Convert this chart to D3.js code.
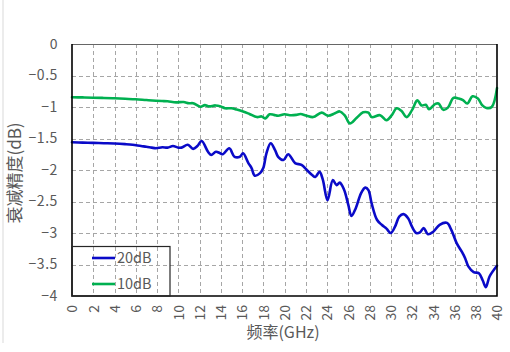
<!DOCTYPE html>
<html>
<head>
<meta charset="utf-8">
<script src="https://cdn.jsdelivr.net/npm/d3@7"></script>
<style>
  html, body { margin: 0; padding: 0; background: #fff; }
  svg { display: block; }
  text { font-family: "Noto Sans CJK SC", "Noto Sans", sans-serif; fill: #595959; }
</style>
</head>
<body>
<svg id="chart" width="510" height="352"></svg>
<script>
// Attenuation accuracy vs. frequency for the 20 dB and 10 dB steps
const seriesNames = ["20dB", "10dB"];
const seriesColors = ["#0a0ac8", "#00b050"];

const freq20 = [0, 1, 2, 3, 4, 5, 5.7, 6.5, 7, 7.5, 7.9, 8.5, 9, 9.5, 10, 10.3, 10.9, 11.4, 11.8, 12.2,
  12.8, 13.1, 13.55, 13.9, 14.2, 14.8, 15.3, 15.8, 16.1, 16.6, 16.9, 17.2, 17.7, 18, 18.3, 18.7,
  19.1, 19.4, 19.9, 20.35, 21, 21.6, 22.1, 22.6, 22.9, 23.3, 23.6, 24.05, 24.55, 24.9, 25.2, 25.6,
  26, 26.3, 26.7, 27.2, 27.6, 27.9, 28.2, 28.7, 29.15, 29.6, 30, 30.4, 30.8, 31.2, 31.65, 32,
  32.4, 32.75, 33.1, 33.5, 34, 34.6, 35.3, 35.7, 36.2, 36.7, 37, 37.3, 37.8, 38.3, 38.65, 38.95,
  39.3, 40];
const acc20 = [-1.56, -1.565, -1.57, -1.575, -1.58, -1.59, -1.6, -1.62, -1.63, -1.645, -1.655, -1.64,
  -1.645, -1.62, -1.645, -1.645, -1.6, -1.665, -1.62, -1.54, -1.71, -1.76, -1.71, -1.73, -1.75,
  -1.655, -1.79, -1.79, -1.735, -1.89, -1.97, -2.09, -2.05, -1.97, -1.735, -1.576, -1.68, -1.79,
  -1.84, -1.75, -1.89, -1.92, -2.0, -2.08, -2.11, -2.03, -2.15, -2.48, -2.16, -2.24, -2.2, -2.31,
  -2.55, -2.73, -2.61, -2.37, -2.28, -2.32, -2.53, -2.79, -2.87, -2.93, -3.0, -2.9, -2.74, -2.7,
  -2.77, -2.9, -3.0, -2.99, -2.92, -3.02, -2.98, -2.87, -2.84, -2.95, -3.16, -3.3, -3.4, -3.53,
  -3.62, -3.64, -3.75, -3.86, -3.69, -3.52];

const freq10 = [0, 1, 2, 3, 4, 5, 6, 7, 7.9, 8.5, 9, 9.8, 10.5, 11, 11.4, 12.1, 12.5, 12.9, 13.5, 14,
  14.4, 15, 15.5, 16.1, 16.7, 17.4, 17.85, 18.2, 18.6, 19, 19.4, 20, 20.5, 21.1, 21.5, 22.1, 22.7,
  23.5, 24.1, 24.75, 25.2, 25.7, 26.15, 26.8, 27.4, 27.9, 28.2, 29, 29.6, 30.1, 30.55, 31, 31.5,
  32, 32.5, 32.9, 33.3, 33.6, 34.2, 34.5, 34.95, 35.4, 35.9, 36.4, 36.8, 37.2, 37.7, 38.2, 38.6,
  39, 39.5, 40];
const acc10 = [-0.846, -0.848, -0.852, -0.856, -0.862, -0.87, -0.878, -0.89, -0.9, -0.905, -0.91,
  -0.926, -0.92, -0.94, -0.94, -0.995, -0.97, -0.99, -0.975, -0.99, -1.02, -1.02, -1.04, -1.07,
  -1.11, -1.16, -1.15, -1.18, -1.116, -1.125, -1.14, -1.116, -1.13, -1.125, -1.11, -1.14, -1.16,
  -1.09, -1.14, -1.1, -1.07, -1.14, -1.26, -1.17, -1.085, -1.09, -1.16, -1.13, -1.21, -1.13,
  -1.02, -1.06, -1.16, -1.05, -0.895, -0.975, -0.965, -1.035, -0.95, -0.945, -1.045, -1.005,
  -0.855, -0.865, -0.89, -0.945, -0.83, -0.865, -0.97, -1.015, -1.0, -0.7];

const xTicks = d3.range(0, 41, 2);
const yTicks = [0, -0.5, -1, -1.5, -2, -2.5, -3, -3.5, -4];
const xTitle = "频率(GHz)";
const yTitle = "衰减精度(dB)";

const svg = d3.select("#chart");
const plotLeft = 72, plotRight = 497, plotTop = 44, plotBottom = 296;

const x = d3.scaleLinear().domain([0, 40]).range([plotLeft, plotRight]);
const y = d3.scaleLinear().domain([-4, 0]).range([plotBottom, plotTop]);

// faint outer border on the left
svg.append("line").attr("x1", 3).attr("x2", 3).attr("y1", 0).attr("y2", 343)
  .attr("stroke", "#d9d9d9").attr("stroke-width", 1);

// dashed grid
const grid = svg.append("g").attr("stroke", "#a6a6a6").attr("stroke-width", 1)
  .attr("stroke-dasharray", "4,3");
grid.selectAll("line.v").data(xTicks.filter(t => t > 0 && t < 40)).join("line")
  .attr("class", "v")
  .attr("x1", d => Math.round(x(d)) + 0.5).attr("x2", d => Math.round(x(d)) + 0.5)
  .attr("y1", plotTop).attr("y2", plotBottom);
grid.selectAll("line.h").data(yTicks.filter(t => t < 0 && t > -4)).join("line")
  .attr("class", "h")
  .attr("x1", plotLeft).attr("x2", plotRight)
  .attr("y1", d => Math.round(y(d)) + 0.5).attr("y2", d => Math.round(y(d)) + 0.5);

// axes (labels only)
const fmt = d => (d < 0 ? "\u2212" : "") + Math.abs(d);
const yAxis = svg.append("g").attr("transform", `translate(${plotLeft - 14},0)`)
  .call(d3.axisLeft(y).tickValues(yTicks).tickSize(0).tickPadding(0).tickFormat(fmt));
yAxis.select(".domain").remove();
yAxis.selectAll("text").attr("font-size", 14).attr("fill", "#595959")
  .attr("letter-spacing", 0.6)
  .style("font-family", '"Noto Sans CJK SC", sans-serif');

const xAxis = svg.append("g").attr("transform", `translate(0,${plotBottom})`)
  .call(d3.axisBottom(x).tickValues(xTicks).tickSize(0).tickFormat(d3.format("d")));
xAxis.select(".domain").remove();
xAxis.selectAll("text")
  .attr("font-size", 14).attr("fill", "#595959")
  .style("font-family", '"Noto Sans CJK SC", sans-serif')
  .attr("text-anchor", "end").attr("dy", "0.35em")
  .attr("transform", "translate(0,9) rotate(-90)")
  .attr("x", 0).attr("y", 0);

// series lines
const line = d3.line().x(d => x(d[0])).y(d => y(d[1])).curve(d3.curveCatmullRom.alpha(0.5));
const data = [
  d3.zip(freq20, acc20),
  d3.zip(freq10, acc10)
];
svg.append("g").selectAll("path").data(data).join("path")
  .attr("d", line).attr("fill", "none")
  .attr("stroke", (d, i) => seriesColors[i]).attr("stroke-width", 2.6)
  .attr("stroke-linejoin", "round").attr("stroke-linecap", "round");

// plot frame
svg.append("line").attr("x1", plotLeft).attr("x2", plotRight)
  .attr("y1", plotTop + 0.5).attr("y2", plotTop + 0.5)
  .attr("stroke", "#666").attr("stroke-width", 1.2);
svg.append("path")
  .attr("d", `M${plotLeft},${plotTop} V${plotBottom} H${plotRight} V${plotTop}`)
  .attr("fill", "none").attr("stroke", "#000").attr("stroke-width", 1.6);

// legend
const lg = svg.append("g");
lg.append("rect").attr("x", plotLeft).attr("y", 246.5).attr("width", 98)
  .attr("height", plotBottom - 246.5)
  .attr("fill", "none").attr("stroke", "#262626").attr("stroke-width", 1.2);
seriesNames.forEach((name, i) => {
  const ly = 258 + i * 26;
  lg.append("line").attr("x1", 92).attr("x2", 115).attr("y1", ly).attr("y2", ly)
    .attr("stroke", seriesColors[i]).attr("stroke-width", 2.6);
  lg.append("text").attr("x", 117).attr("y", ly).attr("dy", "0.36em")
    .attr("font-size", 14.5).text(name);
});

// axis titles
svg.append("text").attr("x", 283).attr("y", 332).attr("dy", "0.36em")
  .attr("text-anchor", "middle").attr("font-size", 16).text(xTitle);
svg.append("text").attr("transform", "translate(15,173) rotate(-90)")
  .attr("dy", "0.36em").attr("text-anchor", "middle").attr("font-size", 17).text(yTitle);
</script>
</body>
</html>
